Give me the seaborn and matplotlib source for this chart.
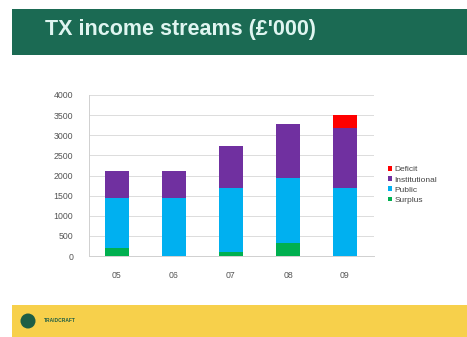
import matplotlib
matplotlib.use("Agg")
import matplotlib.pyplot as plt
import seaborn as sns
import numpy as np
import pandas as pd
from matplotlib.patches import Rectangle, Ellipse

years = ["05", "06", "07", "08", "09"]
surplus = [200, 0, 100, 330, 0]
public = [1250, 1450, 1600, 1620, 1700]
institutional = [650, 670, 1040, 1320, 1470]
deficit = [0, 0, 0, 0, 330]

series_names = ["Surplus", "Public", "Institutional", "Deficit"]
series_vals = [surplus, public, institutional, deficit]
colors = {"Surplus": "#00b050", "Public": "#00b0f0", "Institutional": "#7030a0", "Deficit": "#ff0000"}

sns.set_theme(style="white")
plt.rcParams['font.family'] = ['Liberation Sans', 'DejaVu Sans']

W, H = 467, 337
fig = plt.figure(figsize=(W / 100, H / 100), dpi=100)
fig.patch.set_facecolor("white")

# title banner
fig.patches.append(Rectangle((12 / W, 1 - 55 / H), 1, 46 / H, transform=fig.transFigure,
                             facecolor="#1b6a53", edgecolor="none", zorder=0))
fig.text(45 / W, 1 - 30 / H, "TX income streams (£'000)", color="#dff5f0",
         fontsize=15.5, fontweight="bold", va="center", ha="left")

# footer band
fig.patches.append(Rectangle((12 / W, 0), 1, 32 / H, transform=fig.transFigure,
                             facecolor="#f7d04b", edgecolor="none", zorder=0))
fig.patches.append(Ellipse((28 / W, 16 / H), 15 / W, 15 / H, transform=fig.transFigure,
                           facecolor="#1d5e45", edgecolor="none", zorder=1))
fig.text(44 / W, 17 / H, "TRAIDCRAFT", color="#1d5e45", fontsize=3.5,
         fontweight="bold", va="center", ha="left")

ax = fig.add_axes([88.5 / W, 1 - 256 / H, 285 / W, 161 / H])

# cumulative stacks, drawn back to front
cum = np.zeros(len(years))
cums = []
for vals in series_vals:
    cum = cum + np.array(vals)
    cums.append(cum.copy())

for name, c in reversed(list(zip(series_names, cums))):
    df = pd.DataFrame({"year": years, "value": c})
    sns.barplot(data=df, x="year", y="value", color=colors[name], width=0.41,
                saturation=1, ax=ax, label=name, edgecolor="none", linewidth=0)

if ax.get_legend() is not None:
    ax.get_legend().remove()

ax.set_ylim(0, 4000)
ax.set_yticks(range(0, 4001, 500))
ax.set_xlabel("")
ax.set_ylabel("")
ax.grid(axis="y", color="#dcdcdc", linewidth=0.7)
ax.set_axisbelow(True)
for s in ["top", "right"]:
    ax.spines[s].set_visible(False)
ax.spines["left"].set_color("#d0d0d0")
ax.spines["bottom"].set_color("#d0d0d0")
ax.spines["left"].set_linewidth(0.7)
ax.spines["bottom"].set_linewidth(0.7)
ax.tick_params(axis="y", labelsize=6.3, colors="#555555", length=0, pad=11)
ax.tick_params(axis="x", labelsize=6.3, colors="#555555", length=0, pad=11)

handles, labels = ax.get_legend_handles_labels()
leg = fig.legend(handles, labels, loc="center left", bbox_to_anchor=(380 / W, 1 - 185 / H),
                 frameon=False, fontsize=6, handlelength=0.5, handleheight=0.5,
                 handletextpad=0.3, labelspacing=0.35, labelcolor="#444444")

fig.savefig("out.png", dpi=100)
